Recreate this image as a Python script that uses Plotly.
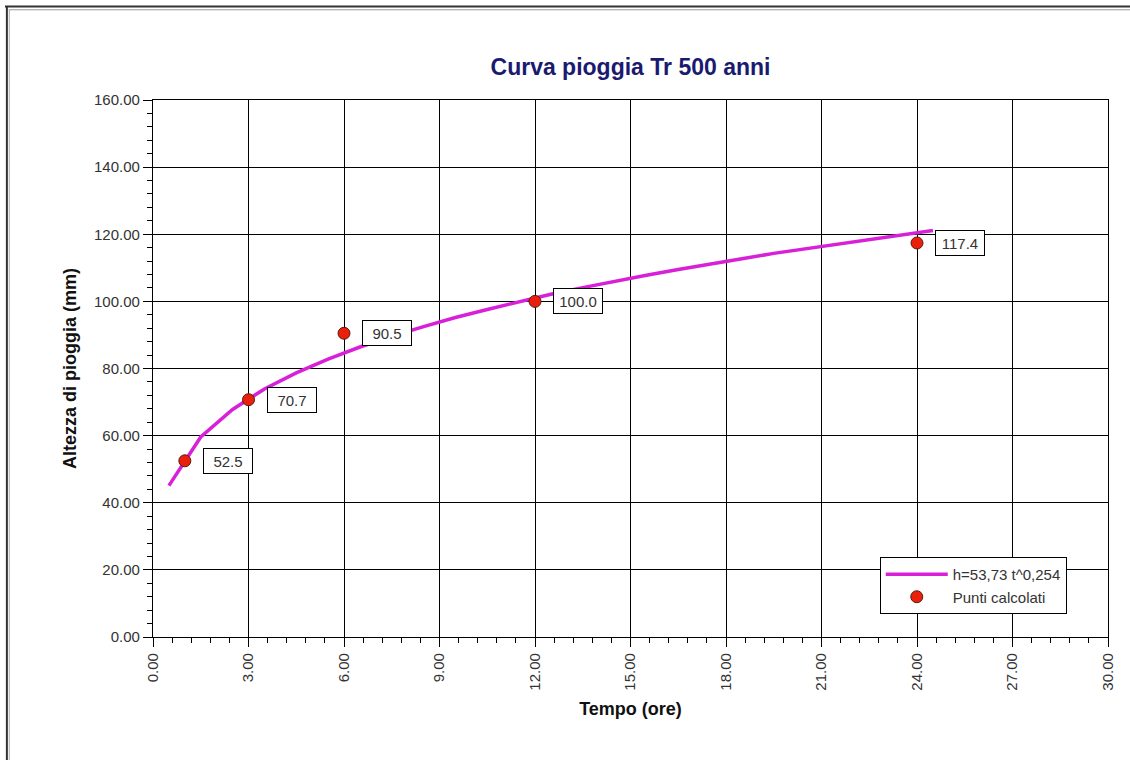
import plotly.graph_objects as go

# Curve h = 53.73 t^0.254
curve_t = [0.5, 1.5, 2.5, 3.5, 4.5, 5.5, 6.5, 7.5, 8.5, 9.5, 10.5, 11.5, 12.5,
           13.5, 14.5, 15.5, 16.5, 17.5, 18.5, 19.5, 20.5, 21.5, 22.5, 23.5, 24.5]
curve_h = [45.1, 59.6, 67.8, 73.9, 78.7, 82.8, 86.4, 89.6, 92.5, 95.2, 97.6, 99.9, 102.1,
           104.1, 106.0, 107.8, 109.5, 111.2, 112.7, 114.3, 115.7, 117.1, 118.5, 119.8, 121.1]

# Calculated points
pts_t = [1, 3, 6, 12, 24]
pts_h = [52.5, 70.7, 90.5, 100.0, 117.4]
pts_lbl = ["52.5", "70.7", "90.5", "100.0", "117.4"]

x_ticks = [0, 3, 6, 9, 12, 15, 18, 21, 24, 27, 30]
y_ticks = [0, 20, 40, 60, 80, 100, 120, 140, 160]

FONT = "Arial, Liberation Sans, sans-serif"

fig = go.Figure()
fig.add_trace(go.Scatter(
    x=curve_t, y=curve_h, mode="lines", name="h=53,73 t^0,254",
    line=dict(color="#d820d8", width=3.5),
))
fig.add_trace(go.Scatter(
    x=pts_t, y=pts_h, mode="markers", name="Punti calcolati",
    marker=dict(color="#e8200c", size=12, line=dict(color="#5a1a10", width=1)),
))

for t, h, s in zip(pts_t, pts_h, pts_lbl):
    fig.add_annotation(
        x=t, y=h, text=s, showarrow=False, xanchor="left", yanchor="middle",
        xshift=18, font=dict(family=FONT, size=15, color="#333333"),
        width=42, height=18, align="center",
        bgcolor="white", bordercolor="black", borderwidth=1, borderpad=3,
    )

axis_common = dict(
    showline=True, linecolor="black", linewidth=1.3, mirror=True,
    showgrid=True, gridcolor="black", gridwidth=1.2,
    zeroline=False, ticks="outside", ticklen=9, tickcolor="black", tickwidth=1.3,
    tickfont=dict(family=FONT, size=15, color="#333333"),
)

fig.update_xaxes(
    range=[0, 30], tickvals=x_ticks, ticktext=[f"{v:.2f}" for v in x_ticks],
    tickangle=-90,
    minor=dict(dtick=0.6, tick0=0, ticks="outside", ticklen=5, tickcolor="black",
               tickwidth=1.2, showgrid=False),
    title=dict(text="<b>Tempo (ore)</b>", font=dict(family=FONT, size=18, color="#111111"),
               standoff=12),
    **axis_common,
)
fig.update_yaxes(
    range=[0, 160], tickvals=y_ticks, ticktext=[f"{v:.2f}" for v in y_ticks],
    minor=dict(dtick=4, tick0=0, ticks="outside", ticklen=5, tickcolor="black",
               tickwidth=1.2, showgrid=False),
    title=dict(text="<b>Altezza di pioggia (mm)</b>", font=dict(family=FONT, size=18, color="#111111"),
               standoff=12),
    **axis_common,
)

# outer frame lines
fig.add_shape(type="line", xref="paper", yref="paper", x0=-0.155, x1=1.03, y0=1.174, y1=1.174,
              line=dict(color="#333333", width=2))
fig.add_shape(type="line", xref="paper", yref="paper", x0=-0.151, x1=1.03, y0=1.168, y1=1.168,
              line=dict(color="#999999", width=1))
fig.add_shape(type="line", xref="paper", yref="paper", x0=-0.153, x1=-0.153, y0=-0.3, y1=1.174,
              line=dict(color="#333333", width=2))
fig.add_shape(type="line", xref="paper", yref="paper", x0=-0.1505, x1=-0.1505, y0=-0.3, y1=1.168,
              line=dict(color="#aaaaaa", width=1))

fig.update_layout(
    width=1130, height=760,
    margin=dict(l=153, r=22, t=100, b=123),
    paper_bgcolor="white", plot_bgcolor="white",
    title=dict(text="<b>Curva pioggia Tr 500 anni</b>", x=0.5, xref="paper", y=0.912, yanchor="middle",
               font=dict(family=FONT, size=23, color="#1a1a70")),
    showlegend=True,
    legend=dict(x=0.761, y=0.149, xanchor="left", yanchor="top",
                bgcolor="white", bordercolor="black", borderwidth=1,
                font=dict(family=FONT, size=15, color="#333333"),
                itemwidth=62, tracegroupgap=4),
    font=dict(family=FONT),
)

fig.write_html("out.html", config={"displayModeBar": False},
               post_script="document.body.style.margin='0';")
